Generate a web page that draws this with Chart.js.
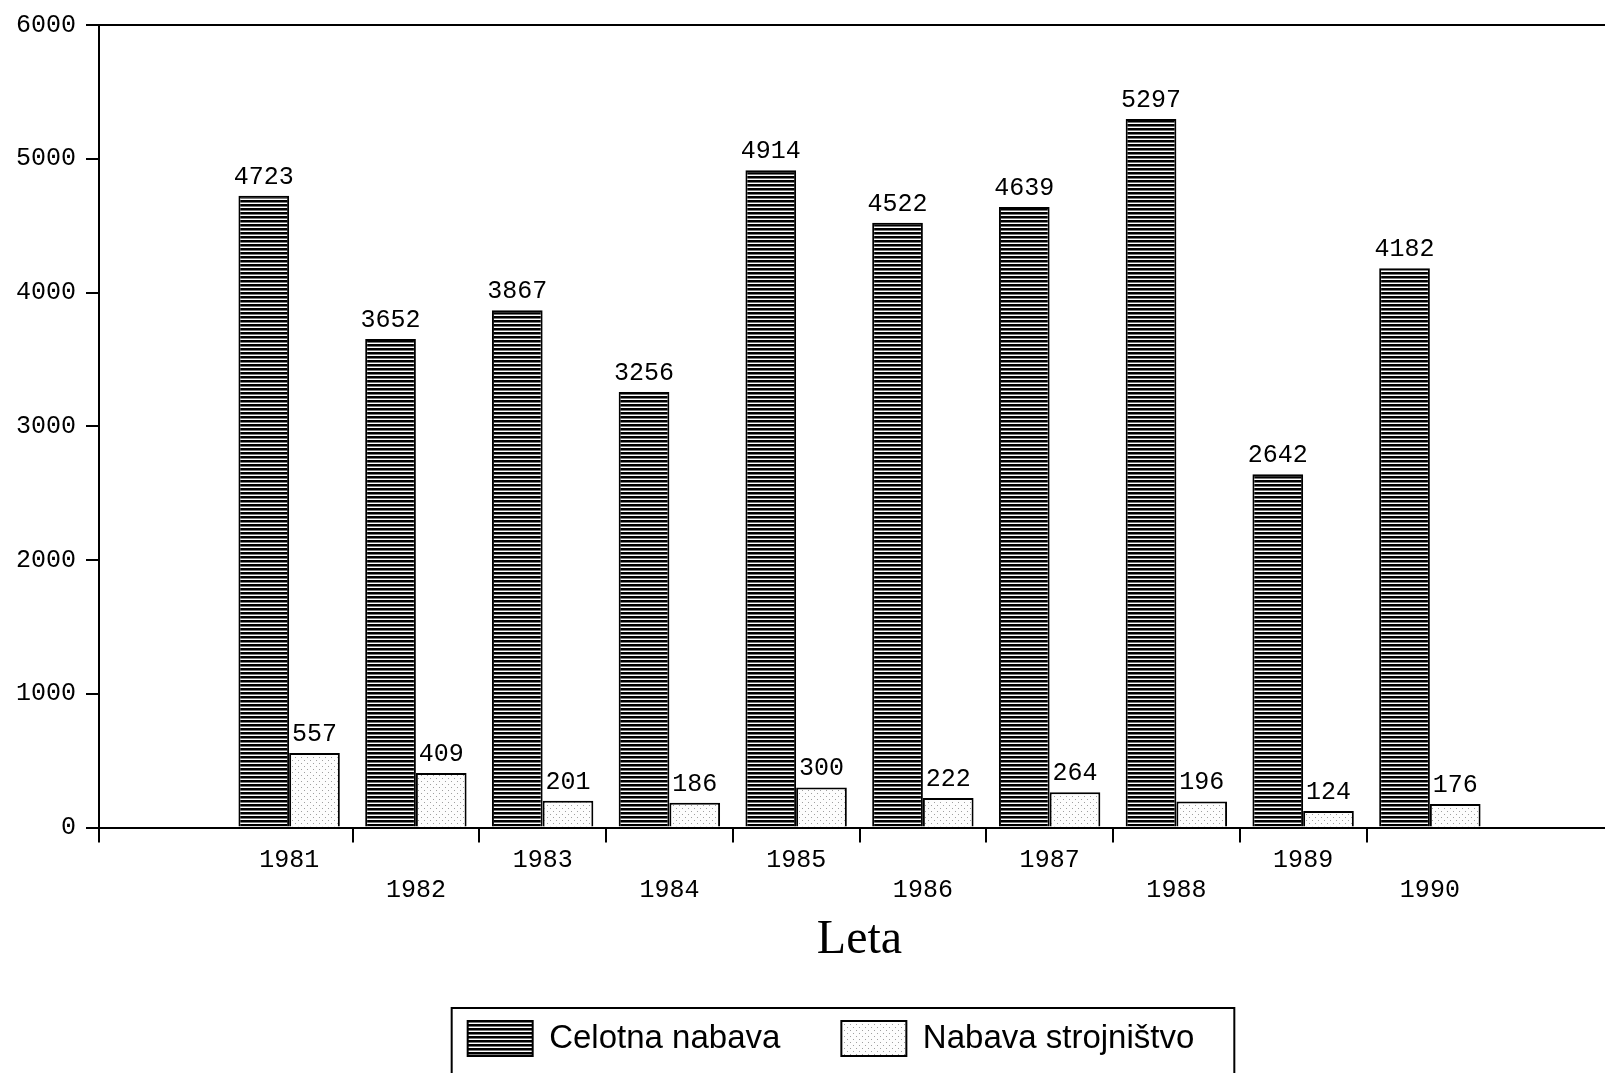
<!DOCTYPE html>
<html>
<head>
<meta charset="utf-8">
<script src="https://cdn.jsdelivr.net/npm/chart.js@4.4.0/dist/chart.umd.min.js"></script>
<style>
  html, body { margin: 0; padding: 0; background: #fff; overflow: hidden; }
  canvas { display: block; }
</style>
</head>
<body>
<canvas id="chart" width="1620" height="1073"></canvas>
<script>
const years = ['1981', '1982', '1983', '1984', '1985', '1986', '1987', '1988', '1989', '1990'];
const celotnaNabava = [4723, 3652, 3867, 3256, 4914, 4522, 4639, 5297, 2642, 4182];
const nabavaStrojnistvo = [557, 409, 201, 186, 300, 222, 264, 196, 124, 176];
const yTicks = [0, 1000, 2000, 3000, 4000, 5000, 6000];
const seriesNames = ['Celotna nabava', 'Nabava strojništvo'];

const monoFont = '"Liberation Mono", "DejaVu Sans Mono", monospace';

// one empty category each side, like the original axis
const labels = ['', ...years, ''];
const pad = arr => [null, ...arr, null];

function stripes() {
  const c = document.createElement('canvas');
  c.width = 8; c.height = 4;
  const g = c.getContext('2d');
  g.fillStyle = '#fff'; g.fillRect(0, 0, 8, 4);
  g.fillStyle = '#000'; g.fillRect(0, 0, 8, 2);
  g.fillStyle = '#777'; g.fillRect(0, 2, 8, 1);
  return g.createPattern(c, 'repeat');
}

function dots() {
  const c = document.createElement('canvas');
  c.width = 6; c.height = 6;
  const g = c.getContext('2d');
  g.fillStyle = '#fdfdfd'; g.fillRect(0, 0, 6, 6);
  g.fillStyle = '#a0a0a0';
  g.fillRect(1, 1, 1, 1);
  g.fillRect(4, 4, 1, 1);
  return g.createPattern(c, 'repeat');
}

const barValueLabels = {
  id: 'barValueLabels',
  afterDatasetsDraw(chart) {
    const ctx = chart.ctx;
    ctx.save();
    ctx.font = '25px ' + monoFont;
    ctx.fillStyle = '#000';
    ctx.textAlign = 'center';
    ctx.textBaseline = 'alphabetic';
    chart.data.datasets.forEach((ds, i) => {
      chart.getDatasetMeta(i).data.forEach((bar, j) => {
        const v = ds.data[j];
        if (v == null) return;
        ctx.fillText(String(v), bar.x, bar.y - 12);
      });
    });
    ctx.restore();
  }
};

// the legend sits a little right of the page centre in the original
const legendFrame = {
  id: 'legendFrame',
  afterLayout(chart) {
    const lg = chart.legend;
    if (lg) { lg.left += 18; lg.right += 18; }
  },
  beforeDraw(chart) {
    const ctx = chart.ctx;
    ctx.save();
    ctx.fillStyle = '#fff';
    ctx.fillRect(0, 0, chart.width, chart.height);
    ctx.restore();
  },
  afterDraw(chart) {
    const hb = chart.legend.legendHitBoxes;
    if (!hb || !hb.length) return;
    const last = hb[hb.length - 1];
    const left = hb[0].left - 16;
    const top = hb[0].top - 13;
    const right = last.left + last.width + 40;
    const ctx = chart.ctx;
    ctx.save();
    ctx.strokeStyle = '#000';
    ctx.lineWidth = 2;
    ctx.strokeRect(left, top, right - left, chart.height - top + 10);
    ctx.restore();
  }
};

Chart.defaults.color = '#000';

new Chart(document.getElementById('chart'), {
  type: 'bar',
  data: {
    labels: labels,
    datasets: [{
      label: seriesNames[0],
      data: pad(celotnaNabava),
      backgroundColor: stripes(),
      borderColor: '#000',
      borderWidth: 2
    }, {
      label: seriesNames[1],
      data: pad(nabavaStrojnistvo),
      backgroundColor: dots(),
      borderColor: '#000',
      borderWidth: 2
    }]
  },
  options: {
    responsive: false,
    animation: false,
    devicePixelRatio: 1,
    categoryPercentage: 0.8,
    barPercentage: 1.0,
    layout: { padding: { top: 22, left: 6, right: 0, bottom: 7 } },
    plugins: {
      tooltip: { enabled: false },
      legend: {
        position: 'bottom',
        labels: {
          boxWidth: 65,
          boxHeight: 35,
          padding: 61,
          color: '#000',
          font: { family: '"Liberation Sans", Arial, sans-serif', size: 33 }
        }
      }
    },
    scales: {
      x: {
        offset: true,
        border: { display: true, color: '#000', width: 2 },
        grid: {
          offset: true,
          drawOnChartArea: false,
          tickLength: 15,
          lineWidth: 2,
          color: ctx => (ctx.index === 0 || (ctx.index >= 2 && ctx.index <= years.length)) ? '#000' : 'rgba(0,0,0,0)'
        },
        ticks: {
          autoSkip: false,
          maxRotation: 0,
          padding: 3,
          color: '#000',
          font: { family: monoFont, size: 25, lineHeight: 1.2 },
          callback: (v, i) => {
            const y = labels[i];
            if (!y) return '';
            return (i % 2 === 1) ? y : ['', y];
          }
        },
        title: {
          display: true,
          text: 'Leta',
          color: '#000',
          padding: { top: 13, bottom: 0 },
          font: { family: '"Liberation Serif", "DejaVu Serif", serif', size: 48, lineHeight: 0.8 }
        }
      },
      y: {
        min: yTicks[0],
        max: yTicks[yTicks.length - 1],
        afterBuildTicks: scale => { scale.ticks = yTicks.map(v => ({ value: v })); },
        border: { display: true, color: '#000', width: 2 },
        grid: {
          tickLength: 13,
          lineWidth: 2,
          tickColor: '#000',
          color: ctx => (ctx.tick && ctx.tick.value === yTicks[yTicks.length - 1]) ? '#000' : 'rgba(0,0,0,0)'
        },
        ticks: {
          padding: 10,
          color: '#000',
          font: { family: monoFont, size: 25 },
          callback: v => String(v)
        }
      }
    }
  },
  plugins: [barValueLabels, legendFrame]
});
</script>
</body>
</html>
